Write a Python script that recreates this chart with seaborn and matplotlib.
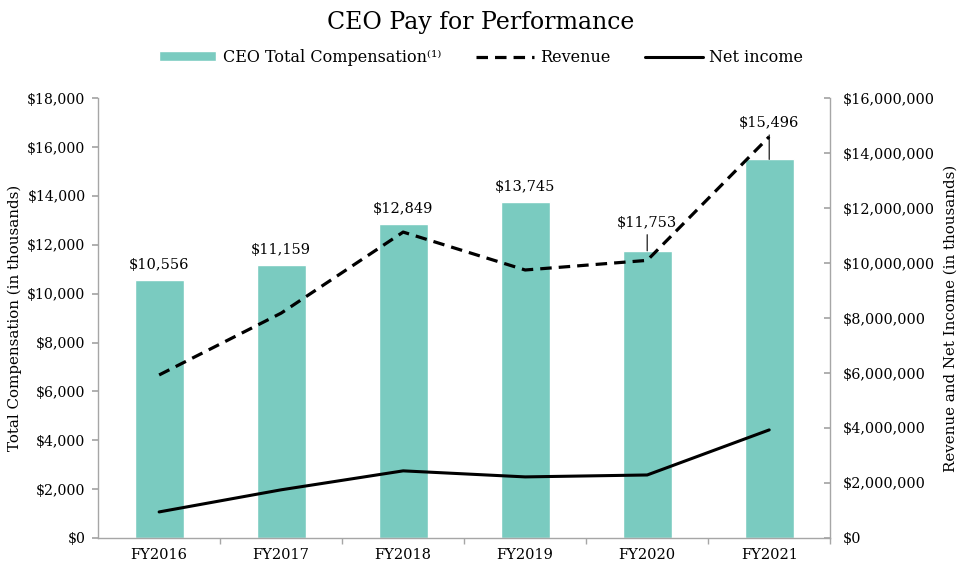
import matplotlib
matplotlib.use("Agg")
import matplotlib.pyplot as plt
import matplotlib.ticker as mticker
import seaborn as sns
import pandas as pd
import numpy as np

years = ["FY2016", "FY2017", "FY2018", "FY2019", "FY2020", "FY2021"]
ceo_comp = [10556, 11159, 12849, 13745, 11753, 15496]
revenue = [5930000, 8180000, 11130000, 9750000, 10100000, 14600000]
net_income = [945000, 1750000, 2440000, 2220000, 2290000, 3930000]
label_offsets = [6, 6, 6, 6, 15, 21]  # points above bar top

sns.set_theme(style="white")
plt.rcParams['font.family'] = ['DejaVu Serif', 'DejaVu Sans']
plt.rcParams['text.color'] = 'black'
plt.rcParams['axes.labelcolor'] = 'black'
plt.rcParams['xtick.labelcolor'] = 'black'
plt.rcParams['ytick.labelcolor'] = 'black'

df = pd.DataFrame({"year": years, "comp": ceo_comp, "revenue": revenue, "net": net_income})

fig = plt.figure(figsize=(9.62, 5.68), dpi=100)
ax = fig.add_axes([0.102, 0.053, 0.761, 0.774])
bar_color = "#7ACBC0"
sns.barplot(data=df, x="year", y="comp", color=bar_color, width=0.4, ax=ax, saturation=1)
ax.set_xlim(-0.5, len(years) - 0.5)
ax.set_ylim(0, 18000)
ax.yaxis.set_major_locator(mticker.MultipleLocator(2000))
ax.yaxis.set_major_formatter(mticker.FuncFormatter(lambda v, p: f"${v:,.0f}"))
ax.set_xlabel("")
ax.set_ylabel("Total Compensation (in thousands)", fontsize=10.8, labelpad=4)

ax2 = ax.twinx()
sns.lineplot(data=df, x="year", y="revenue", ax=ax2, color="black", lw=2.3,
             linestyle=(0, (3.6, 2.2)), sort=False, label="Revenue", legend=False)
sns.lineplot(data=df, x="year", y="net", ax=ax2, color="black", lw=2.2,
             sort=False, label="Net income", legend=False)
ax2.set_ylim(0, 16000000)
ax2.yaxis.set_major_locator(mticker.MultipleLocator(2000000))
ax2.yaxis.set_major_formatter(mticker.FuncFormatter(lambda v, p: f"${v:,.0f}"))
ax2.set_ylabel("Revenue and Net Income (in thousands)", fontsize=10.8, labelpad=6)
ax2.set_xlim(-0.5, len(years) - 0.5)

spine_c = "#A6A6A6"
for a in (ax, ax2):
    for s in a.spines.values():
        s.set_visible(False)
    a.grid(False)
ax.spines['left'].set_visible(True)
ax.spines['bottom'].set_visible(True)
ax2.spines['right'].set_visible(True)
for s in (ax.spines['left'], ax.spines['bottom'], ax2.spines['right']):
    s.set_color(spine_c)
    s.set_linewidth(1.0)

ax.tick_params(axis='y', which='major', direction='out', length=4, color=spine_c,
               labelsize=10.2, left=True, pad=5, labelcolor='black')
ax2.tick_params(axis='y', which='major', direction='in', length=4, color=spine_c,
                labelsize=10.4, right=True, pad=9, labelcolor='black')
ax.tick_params(axis='x', which='major', length=0, labelsize=10.5, pad=7, labelcolor='black')
ax.set_xticks(np.arange(len(years)) + 0.5, minor=True)
ax.tick_params(axis='x', which='minor', direction='out', length=4, color=spine_c, bottom=True)
ax2.tick_params(axis='x', which='both', length=0, labelbottom=False)

for i, (v, off) in enumerate(zip(ceo_comp, label_offsets)):
    if off > 8:
        ax.annotate(f"${v:,.0f}", xy=(i, v), xytext=(0, off), textcoords="offset points",
                    ha="center", va="bottom", fontsize=10.5, zorder=5, color='black',
                    arrowprops=dict(arrowstyle='-', color='black', lw=0.8,
                                    relpos=(0.5, 0), shrinkA=1, shrinkB=0))
    else:
        ax.annotate(f"${v:,.0f}", xy=(i, v), xytext=(0, off), textcoords="offset points",
                    ha="center", va="bottom", fontsize=10.5, zorder=5, color='black')

handles = [ax.patches[0], ax2.lines[0], ax2.lines[1]]
labels = ["CEO Total Compensation⁽¹⁾", "Revenue", "Net income"]
fig.legend(handles, labels, loc="center", bbox_to_anchor=(0.5, 0.899), ncol=3,
           frameon=False, fontsize=11.5, handlelength=3.6, handleheight=0.6,
           columnspacing=2.2, handletextpad=0.4, labelcolor='black')

fig.suptitle("CEO Pay for Performance", fontsize=17, y=0.98, color='black')

fig.savefig("out.png", dpi=100)
